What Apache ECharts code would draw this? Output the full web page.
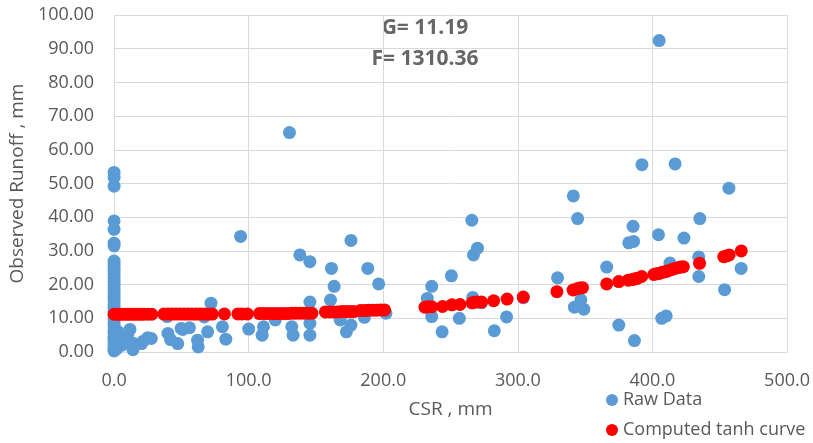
<!DOCTYPE html>
<html>
<head>
<meta charset="utf-8">
<title>Observed Runoff vs CSR</title>
<script src="https://cdn.jsdelivr.net/npm/echarts/dist/echarts.min.js"></script>
<style>
    html,body{margin:0;padding:0;background:#fff;}
    #chart{width:813px;height:443px;}
</style>
</head>
<body>
<div id="chart"></div>
<script>
    // 原始数据 (CSR, 径流)
    let rawX = [
        0,0,0,0,0,0,0,0,0,0,0,0,0,0,0,0,0,0,0,0,0,0,0,0,0,0,0,0,0,0,0,0,0,0,0,0,0,
        2,4.4,5.7,8,11.8,14,14.5,20.4,21.6,25,27.7,3,10,
        39.5,40,42,47.3,49.8,51,56,62,62.5,67,69.5,72,80.5,83,94,100,
        110,111,119.8,130.3,132,133,138,145.5,145.5,145.5,145.5,160.8,161.5,163.5,168,172.6,176,176,186,188.5,196.6,202,
        232.7,236,236,243.7,250.6,256.5,265.8,267,270,266.5,273,282.5,291.6,304,
        329.5,341.2,344.4,346.8,342,349,366,375,382.4,386,385.6,386.6,392.2,404.5,405,406.9,410.2,413,416.8,423.4,434.4,434.4,435.2,453.6,456.8,465.9
    ];
    let rawY = [
        0.3,0.8,1.5,2.2,3.0,3.8,4.6,5.5,6.3,7.2,8.0,9.0,10.0,11.0,12.0,13.0,14.0,15.0,16.0,17.0,18.0,19.0,20.0,21.0,22.0,23.0,24.0,25.0,26.0,27.0,31.5,32.3,36.4,38.9,49.2,51.8,53.3,
        1.0,4.7,2.0,2.7,6.7,0.7,2.5,2.5,3.2,4.2,4.0,6.0,5.0,
        10.5,5.5,3.7,2.5,7.0,6.7,7.2,3.5,1.5,10.4,6.0,14.5,7.5,3.8,34.3,6.8,
        5.0,7.5,9.5,65.1,7.5,5.0,28.8,26.8,14.8,8.5,5.0,15.4,24.8,19.5,9.5,6.0,33.1,8.0,10.3,24.8,20.2,11.5,
        15.9,19.5,10.5,6.0,22.6,10.0,39.1,28.8,30.8,16.2,14.6,6.3,10.4,16.1,
        22.0,46.3,39.6,15.5,13.3,12.7,25.2,8.0,32.4,32.8,37.3,3.4,55.6,34.8,92.4,10.0,10.7,26.4,55.8,33.8,28.2,22.4,39.6,18.5,48.6,24.8
    ];
    // tanh 拟合曲线
    let curveX = [
        0,2,4,6,8,10,12,14,16,18,20,22,25,28,
        37,40,43,46,49,52,55,58,61,64,67,70,73,82,92,95,99,
        108,111,114,117,120,123,126,129,132,135,138,141,144,147,
        157,160,163,166,169,172,175,178,183,186,189,192,195,198,201,
        231,233,236,244,251,257,266,269,273,282,292,304,
        329,341,344,346,348,366,375,382,385,387,389,392,401,403,405,407,409,411,414,416,419,421,423,435,453,455,457,466
    ];
    let curveY = [
        11.2,11.2,11.2,11.2,11.2,11.2,11.2,11.2,11.2,11.2,11.2,11.2,11.2,11.2,
        11.25,11.25,11.25,11.25,11.25,11.25,11.25,11.25,11.25,11.25,11.25,11.25,11.25,11.3,11.3,11.3,11.3,
        11.4,11.4,11.4,11.4,11.4,11.4,11.4,11.4,11.5,11.5,11.5,11.5,11.5,11.5,
        11.9,11.9,11.9,11.9,12.0,12.0,12.0,12.0,12.3,12.3,12.4,12.4,12.4,12.5,12.5,
        13.3,13.4,13.4,13.5,14.0,14.1,14.6,14.8,14.8,15.2,15.7,16.3,
        17.9,18.4,18.8,19.0,19.1,20.2,20.9,21.3,21.5,21.7,21.9,22.4,23.0,23.2,23.3,23.6,23.8,24.0,24.4,24.7,25.0,25.2,25.3,26.3,28.3,28.5,28.8,30.0
    ];
    let legendData = ['Raw Data', 'Computed tanh curve'];
    let colorList = ['#5b9bd5', '#ff0000'];

    function toPairs(xs, ys){
        let arr = [];
        for(let i=0;i<xs.length;i++){
            arr.push([xs[i], ys[i]]);
        }
        return arr;
    }

    let myChart = echarts.init(document.getElementById('chart'));
    let txtColor = '#595959';
    let fontName = '"Open Sans", "Noto Sans", sans-serif';
    let _option = {
        backgroundColor: '#fff',
        animation: false,
        textStyle: {fontFamily: fontName},
        legend: {
            data: legendData,
            orient: 'vertical',
            left: 606,
            top: 391,
            padding: 0,
            itemGap: 12,
            icon: 'circle',
            itemWidth: 12,
            itemHeight: 12,
            textStyle: {color: txtColor, fontSize: 18, fontFamily: fontName}
        },
        grid: {
            left: 109,
            right: 25,
            top: 15,
            bottom: 91
        },
        xAxis: {
            type: 'value',
            min: 0,
            max: 500,
            interval: 100,
            name: 'CSR , mm',
            nameLocation: 'middle',
            nameGap: 48,
            nameTextStyle: {color: txtColor, fontSize: 19, fontFamily: fontName},
            axisLine: {show: true, lineStyle: {color: '#d9d9d9'}},
            axisTick: {show: false},
            axisLabel: {
                color: txtColor, fontSize: 18, margin: 20, fontFamily: fontName,
                formatter: function(v){ return v.toFixed(1); }
            },
            splitLine: {show: true, lineStyle: {color: '#d9d9d9'}}
        },
        yAxis: {
            type: 'value',
            min: 0,
            max: 100,
            interval: 10,
            name: 'Observed Runoff , mm',
            nameLocation: 'middle',
            nameGap: 77,
            nameTextStyle: {color: txtColor, fontSize: 19, fontFamily: fontName},
            axisLine: {show: false},
            axisTick: {show: false},
            axisLabel: {
                color: txtColor, fontSize: 18, margin: 20, fontFamily: fontName,
                formatter: function(v){ return v.toFixed(2); }
            },
            splitLine: {show: true, lineStyle: {color: '#d9d9d9'}}
        },
        graphic: [
            {
                type: 'text', x: 425, y: 28,
                style: {text: 'G= 11.19', font: 'bold 21px "Open Sans"', fill: '#666', textAlign: 'center', textVerticalAlign: 'middle'}
            },
            {
                type: 'text', x: 425, y: 59,
                style: {text: 'F= 1310.36', font: 'bold 21px "Open Sans"', fill: '#666', textAlign: 'center', textVerticalAlign: 'middle'}
            }
        ],
        series: [
            {
                name: legendData[0],
                type: 'scatter',
                symbolSize: 13,
                itemStyle: {color: colorList[0], opacity: 1},
                data: toPairs(rawX, rawY)
            },
            {
                name: legendData[1],
                type: 'scatter',
                symbolSize: 13,
                itemStyle: {color: colorList[1], opacity: 1},
                data: toPairs(curveX, curveY)
            }
        ]
    };
    myChart.setOption(_option);
</script>
</body>
</html>
